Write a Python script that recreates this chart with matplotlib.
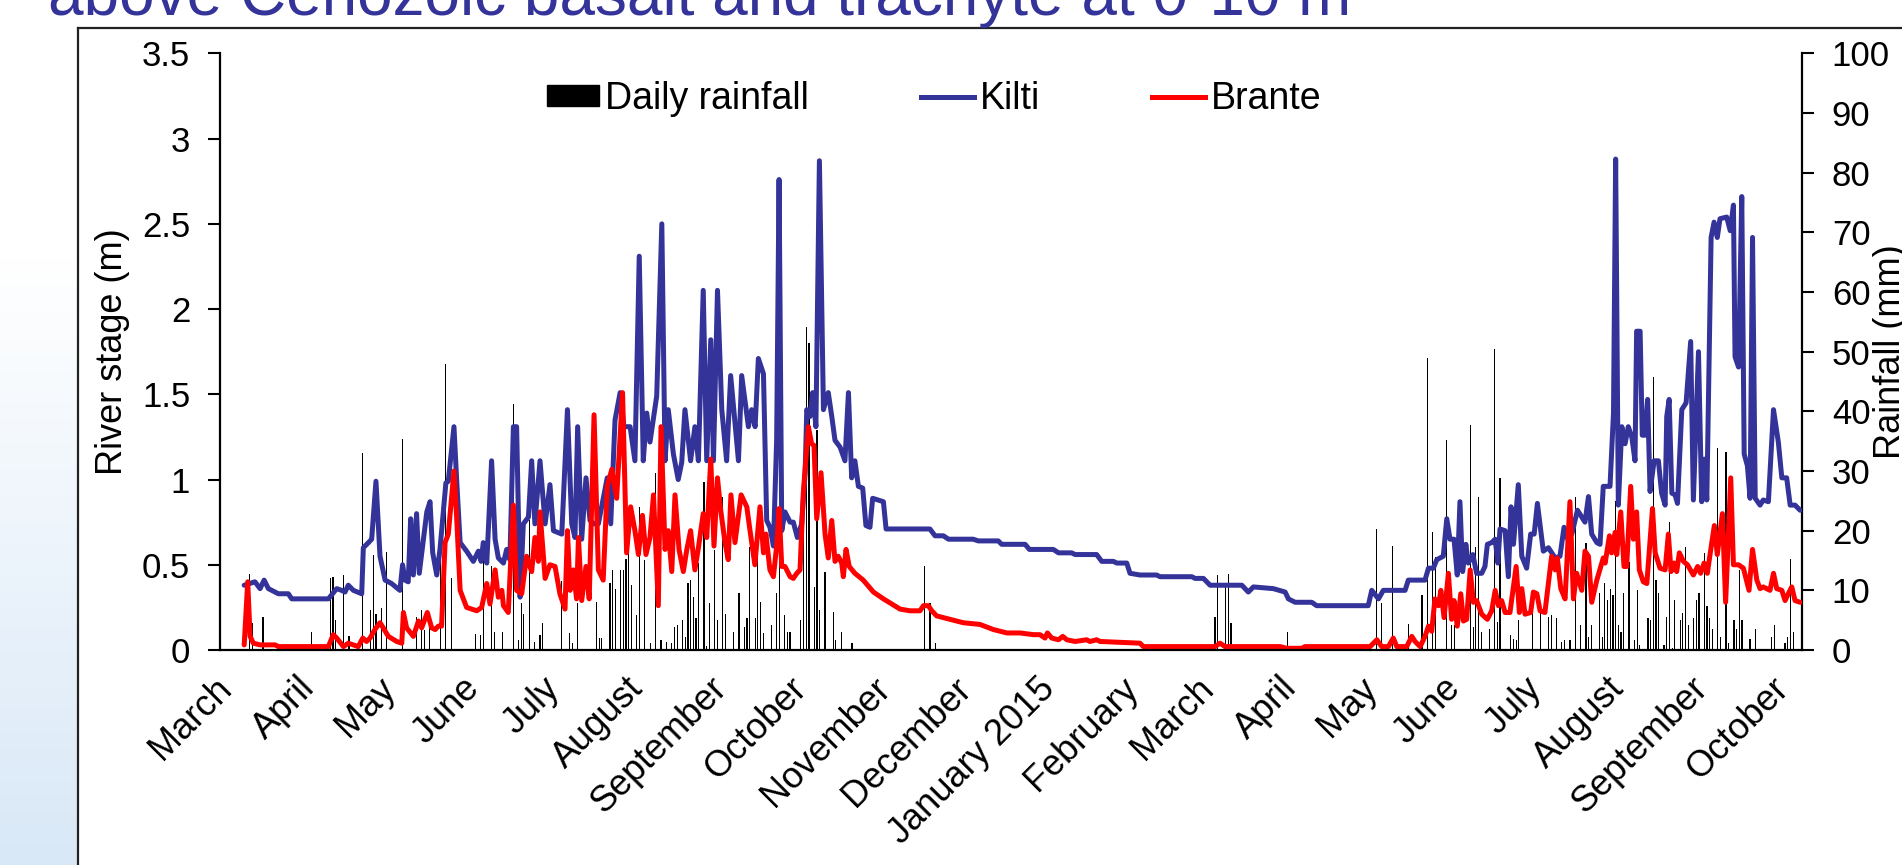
import numpy as np
import matplotlib
matplotlib.use("Agg")
import matplotlib.pyplot as plt
from matplotlib.lines import Line2D
from matplotlib.patches import Patch
from matplotlib.transforms import ScaledTranslation

# ---------------- data ----------------
START = np.datetime64("2014-03-01")
X_END_DAY = 588.3  # axis end, days after START

kilti_day = [9, 13.0, 14.9, 16.4, 18.0, 21.7, 25.4, 26.7, 40.3, 43.4, 45.2, 46.5, 47.7, 49.6, 52.7,
             53.3, 55.2, 56.4, 58.0, 59.5, 61.4, 63.8, 66.9, 67.9, 68.8, 70.0, 70.9, 71.9, 73.1, 74.1,
             76.9, 78.1, 79.1, 80.6, 81.8, 84.0, 84.9, 87.0, 88.0, 89.3, 91.7, 94.2, 96.1, 97.1, 97.9,
             99.2, 101.0, 102.3, 103.5, 105.4, 106.6, 107.8, 109.1, 110.3, 111.6, 112.8, 114.7, 115.9,
             117.1, 119.0, 120.9, 122.7, 124.0, 127.1, 129.2, 130.8, 132.0, 133.0, 134.5, 136.1, 137.6,
             139.1, 140.7, 144.0, 145.3, 146.9, 148.8, 150.2, 152.5, 154.3, 155.9, 157.4, 158.7, 159.9,
             162.4, 164.3, 165.5, 166.7, 168.6, 170.4, 171.7, 172.9, 175.0, 176.6, 177.9, 179.7, 181.0,
             182.5, 183.5, 185.0, 186.6, 188.4, 189.9, 192.8, 194.0, 196.5, 197.7, 199.0, 200.2, 202.1,
             203.3, 204.5, 205.8, 207.0, 207.9, 208.9, 210.1, 212.0, 213.2, 214.7, 216.3, 217.6, 218.2,
             219.4, 220.4, 221.6, 222.9, 224.4, 226.2, 227.5, 228.7, 230.6, 232.4, 233.7, 234.9, 236.1,
             237.4, 239.0, 240.2, 241.7, 242.7, 246.7, 247.7, 264.0, 265.9, 269.0, 270.9, 280.1, 282.0,
             289.4, 290.7, 299.4, 301.0, 309.9, 311.8, 316.7, 318.0, 326.0, 327.9, 332.2, 333.5, 337.2,
             338.4, 342.1, 348.3, 349.6, 361.4, 362.6, 365.7, 368.2, 380.0, 382.4, 384.3, 391.7, 396.1,
             397.3, 399.8, 406.0, 407.8, 427.0, 428.3, 430.8, 432.6, 440.7, 441.9, 448.1, 449.4, 451.2,
             452.5, 454.9, 456.2, 457.4, 458.9, 460.1, 461.1, 462.1, 463.3, 464.2, 465.9, 467.3, 469.2,
             470.4, 471.3, 472.9, 474.2, 475.2, 476.0, 477.9, 479.1, 480.1, 481.0, 482.8, 484.1, 485.9,
             487.4, 488.7, 489.9, 492.1, 494.0, 496.5, 498.3, 499.8, 501.2, 502.7, 504.8, 506.4, 507.6,
             508.9, 510.1, 512.0, 513.2, 514.4, 516.9, 518.2, 519.0, 520.0, 521.3, 522.5, 523.7, 525.0,
             526.2, 526.8, 528.1, 528.9, 529.9, 530.9, 531.8, 533.3, 534.9, 536.1, 537.4, 538.0, 538.9,
             539.9, 541.1, 542.0, 543.6, 545.2, 546.9, 547.9, 549.8, 551.0, 552.0, 552.9, 554.5, 555.6,
             556.8, 557.8, 560.3, 561.6, 562.8, 563.4, 564.7, 565.9, 566.8, 568.0, 569.0, 569.9, 570.9,
             572.7, 573.9, 575.8, 577.7, 579.5, 580.8, 582.6, 583.9, 585.7, 587.6]
kilti_stage = [0.38, 0.40, 0.36, 0.41, 0.36, 0.33, 0.33, 0.30, 0.30, 0.36, 0.35, 0.34, 0.38, 0.35, 0.33,
               0.60, 0.63, 0.65, 0.99, 0.55, 0.41, 0.39, 0.35, 0.50, 0.41, 0.40, 0.77, 0.44, 0.80, 0.45,
               0.81, 0.87, 0.57, 0.44, 0.59, 0.98, 0.99, 1.31, 1.00, 0.63, 0.58, 0.52, 0.58, 0.52, 0.63,
               0.51, 1.11, 0.65, 0.54, 0.51, 0.59, 0.53, 1.31, 1.31, 0.31, 0.74, 0.78, 1.11,
               0.74, 1.11, 0.74, 0.97, 0.70, 0.68, 1.41, 0.74, 0.66, 1.31, 0.65, 1.01, 0.76,
               0.74, 0.74, 1.01, 0.74, 1.35, 1.51, 1.31, 1.31, 1.11, 2.31, 1.11, 1.39, 1.22,
               1.49, 2.50, 1.11, 1.41, 1.15, 1.00, 1.10, 1.41, 1.11, 1.31, 1.11, 2.11, 1.11,
               1.82, 1.11, 2.11, 1.41, 1.11, 1.61, 1.11, 1.61, 1.31, 1.41, 1.31, 1.71, 1.62,
               0.76, 0.72, 0.61, 1.23, 2.76, 0.70, 0.81, 0.75, 0.75, 0.66, 0.74, 1.04, 1.41,
               1.37, 1.51, 1.31, 2.87, 1.41, 1.51, 1.37, 1.23, 1.19, 1.11, 1.51, 1.01, 1.11,
               0.96, 0.95, 0.73, 0.72, 0.89, 0.87, 0.71, 0.71, 0.67, 0.67, 0.65, 0.65, 0.64,
               0.64, 0.62, 0.62, 0.59, 0.59, 0.57, 0.57, 0.56, 0.56, 0.52, 0.52, 0.51, 0.51,
               0.45, 0.44, 0.44, 0.43, 0.43, 0.42, 0.42, 0.38, 0.38, 0.34, 0.37, 0.36, 0.34,
               0.30, 0.28, 0.28, 0.26, 0.26, 0.35, 0.30, 0.35, 0.35, 0.41, 0.41, 0.48, 0.48,
               0.53, 0.55, 0.77, 0.65, 0.65, 0.44, 0.87, 0.46, 0.62, 0.51, 0.56, 0.45, 0.45,
               0.49, 0.62, 0.63, 0.65, 0.51, 0.71, 0.70, 0.43, 0.84, 0.62, 0.97, 0.55, 0.48,
               0.68, 0.68, 0.86, 0.58, 0.60, 0.54, 0.55, 0.72, 0.65, 0.68, 0.82, 0.78, 0.75,
               0.90, 0.68, 0.63, 0.62, 0.96, 0.96, 1.39, 2.88, 0.85, 1.31, 1.21, 1.31, 1.25,
               1.11, 1.87, 1.87, 1.26, 1.26, 1.47, 0.93, 1.11, 1.11, 0.92, 0.85, 1.37, 1.47,
               0.92, 0.91, 0.86, 1.41, 1.45, 1.81, 0.88, 1.75, 0.87, 1.12, 0.88, 2.42, 2.51,
               2.42, 2.53, 2.54, 2.46, 2.61, 1.72, 1.66, 2.66, 1.15, 1.08, 0.89, 2.42, 0.89,
               0.85, 0.88, 0.87, 1.41, 1.22, 1.01, 1.01, 0.85, 0.85, 0.82]

brante_day = [9.0, 10.3, 11.2, 12.4, 14.9, 20.5, 21.7, 40.3, 42.1, 43.4, 45.9, 47.7, 51.4, 53.1, 54.5,
              55.8, 57.6, 59.5, 60.7, 62.6, 65.7, 67.6, 68.2, 69.4, 71.9, 73.8, 75.0, 77.1, 78.7, 80.0,
              81.2, 82.4, 83.7, 84.9, 87.0, 88.0, 89.3, 91.7, 93.6, 95.5, 97.3, 99.2, 100.4, 102.3, 103.5,
              104.8, 105.4, 107.2, 109.1, 110.3, 112.2, 114.0, 115.9, 117.1, 118.4, 119.0, 120.9, 122.7,
              124.6, 126.4, 128.3, 129.2, 130.2, 131.4, 132.6, 133.3, 134.5, 136.1, 137.3, 139.1, 140.7,
              142.5, 144.0, 145.7, 147.5, 149.7, 151.2, 152.7, 154.3, 155.6, 157.1, 158.4, 159.9, 161.2,
              163.0, 164.0, 165.5, 166.7, 168.0, 169.2, 170.7, 172.3, 173.6, 175.0, 176.6, 177.9, 179.7,
              181.0, 182.5, 183.7, 185.0, 186.2, 187.8, 189.0, 190.0, 191.5, 193.8, 195.9, 197.1, 198.9,
              200.8, 202.1, 203.0, 204.5, 205.8, 207.0, 207.9, 208.9, 210.1, 212.0, 213.2, 214.5, 215.7,
              216.9, 218.8, 220.0, 220.9, 221.9, 223.5, 225.0, 226.2, 227.5, 228.7, 229.9, 231.2, 231.8,
              232.8, 234.0, 236.1, 239.2, 243.0, 246.7, 252.9, 256.6, 260.3, 261.6, 263.4, 264.7, 266.5,
              271.5, 276.4, 282.6, 287.6, 292.6, 297.5, 302.5, 304.9, 306.8, 307.7, 309.3, 311.8, 313.4,
              314.9, 318.0, 322.3, 323.5, 326.0, 327.3, 342.1, 343.4, 370.0, 371.9, 373.7, 394.2, 396.7,
              402.3, 403.5, 427.7, 430.2, 432.0, 434.5, 436.3, 437.6, 441.3, 443.2, 444.4, 446.3, 448.1,
              449.4, 450.6, 451.8, 453.1, 454.0, 455.2, 456.8, 458.0, 458.9, 460.1, 461.4, 462.4, 463.6,
              464.9, 466.1, 467.3, 469.2, 471.3, 472.9, 474.2, 475.4, 476.6, 477.9, 479.7, 482.0, 483.2,
              484.1, 485.3, 487.4, 488.4, 489.7, 490.9, 492.7, 495.2, 496.5, 497.3, 498.6, 500.2, 502.0,
              503.3, 504.5, 506.4, 507.6, 508.9, 510.1, 512.0, 514.4, 515.1, 516.7, 517.5, 518.8, 519.4,
              520.9, 522.1, 523.1, 524.6, 525.6, 526.8, 527.8, 529.3, 530.6, 532.7, 533.7, 535.5, 537.4,
              538.6, 539.6, 540.7, 541.7, 542.7, 544.2, 545.7, 547.9, 549.5, 550.6, 551.9, 553.1, 554.1,
              555.7, 556.8, 558.7, 559.9, 561.8, 562.8, 564.7, 566.5, 568.6, 569.9, 571.5, 572.7, 573.9,
              576.4, 577.7, 578.9, 580.8, 582.0, 583.2, 584.5, 585.7, 587.6]
brante_stage = [0.03, 0.40, 0.08, 0.04, 0.03, 0.03, 0.02, 0.02, 0.09, 0.07, 0.02, 0.04, 0.02, 0.07, 0.05,
                0.07, 0.12, 0.16, 0.13, 0.08, 0.05, 0.04, 0.22, 0.13, 0.08, 0.17, 0.13, 0.22, 0.13, 0.12,
                0.14, 0.14, 0.63, 0.68, 1.05, 0.78, 0.35, 0.25, 0.24, 0.23, 0.25, 0.39, 0.27, 0.47, 0.31,
                0.35, 0.26, 0.22, 0.85, 0.35, 0.33, 0.55, 0.46, 0.66, 0.52, 0.81, 0.42, 0.50,
                0.49, 0.33, 0.24, 0.70, 0.35, 0.47, 0.30, 0.66, 0.29, 0.49, 0.30, 1.38, 0.47,
                0.41, 0.96, 1.06, 0.89, 1.51, 0.57, 0.84, 0.70, 0.56, 0.79, 0.56, 0.66, 0.91,
                0.26, 1.31, 0.59, 0.70, 0.46, 0.91, 0.59, 0.46, 0.59, 0.70, 0.47, 0.60, 0.80,
                0.66, 1.12, 0.61, 1.01, 0.82, 0.63, 0.53, 0.91, 0.63, 0.91, 0.84, 0.70, 0.50,
                0.84, 0.57, 0.68, 0.47, 0.43, 0.61, 0.83, 0.49, 0.49, 0.43, 0.42, 0.45, 0.47,
                0.92, 1.31, 1.21, 1.20, 0.77, 1.04, 0.68, 0.54, 0.76, 0.52, 0.55, 0.51, 0.43,
                0.59, 0.49, 0.45, 0.41, 0.34, 0.30, 0.24, 0.23, 0.23, 0.26, 0.26, 0.23, 0.20,
                0.18, 0.16, 0.15, 0.12, 0.10, 0.10, 0.09, 0.09, 0.07, 0.10, 0.07, 0.06, 0.08,
                0.06, 0.05, 0.06, 0.05, 0.06, 0.05, 0.04, 0.02, 0.02, 0.04, 0.02, 0.02, 0.01,
                0.01, 0.02, 0.02, 0.06, 0.02, 0.02, 0.07, 0.02, 0.02, 0.08, 0.05, 0.02, 0.08,
                0.14, 0.11, 0.30, 0.26, 0.35, 0.19, 0.45, 0.18, 0.29, 0.14, 0.33, 0.17, 0.18,
                0.47, 0.28, 0.29, 0.21, 0.18, 0.23, 0.35, 0.26, 0.29, 0.22, 0.22, 0.49, 0.22,
                0.36, 0.21, 0.22, 0.34, 0.33, 0.23, 0.22, 0.55, 0.47, 0.54, 0.36, 0.30, 0.87,
                0.30, 0.45, 0.35, 0.58, 0.55, 0.28, 0.41, 0.54, 0.51, 0.67, 0.57, 0.69, 0.56,
                0.81, 0.49, 0.49, 0.96, 0.65, 0.81, 0.47, 0.40, 0.39, 0.83, 0.57, 0.48, 0.47,
                0.68, 0.46, 0.51, 0.46, 0.57, 0.52, 0.50, 0.44, 0.49, 0.45, 0.51, 0.45, 0.56,
                0.73, 0.56, 0.80, 0.28, 1.01, 0.50, 0.50, 0.48, 0.35, 0.59, 0.41, 0.36, 0.37,
                0.35, 0.45, 0.36, 0.35, 0.29, 0.33, 0.37, 0.29, 0.28]

rain_day = [11, 12, 16, 34, 41, 42, 43, 46, 48, 53, 56, 57, 58, 60, 62, 68, 73, 75, 76, 78, 82, 84, 86,
            95, 97, 98, 101, 102, 105, 109, 111, 112, 113, 115, 117, 119, 120, 127, 130, 131, 133, 140,
            141, 142, 145, 146, 147, 149, 150, 151, 152, 153, 155, 156, 158, 160, 162, 164, 166, 168,
            169, 170, 172, 173, 174, 175, 176, 177, 178, 180, 181, 182, 184, 185, 187, 188, 191, 193,
            195, 196, 197, 199, 200, 201, 202, 205, 207, 208, 210, 211, 212, 216, 217, 218, 219, 221,
            222, 223, 225, 228, 229, 231, 235, 262, 264, 266, 370, 371, 374, 375, 376, 397, 430, 432,
            436, 442, 447, 449, 451, 452, 456, 458, 459, 465, 466, 467, 468, 469, 472, 474, 475, 476,
            480, 481, 482, 483, 488, 491, 494, 495, 497, 499, 500, 502, 504, 506, 508, 509, 510, 513,
            514, 515, 516, 517, 518, 519, 520, 521, 522, 524, 526, 527, 528, 531, 532, 533, 534, 535,
            537, 538, 539, 540, 541, 543, 544, 545, 546, 548, 549, 550, 552, 553, 554, 555, 557, 558,
            560, 561, 563, 564, 565, 566, 569, 571, 577, 578, 582, 583, 584, 585]
rain_mm = [12.7, 4.6, 5.6, 3.1, 12.1, 12.3, 5.1, 12.6, 2.3, 33.0, 6.7, 15.9, 6.1, 7.1, 16.4, 35.3, 5.6,
           6.7, 3.4, 5.3, 21.8, 48.0, 12.0, 2.6, 2.5, 15.0, 14.0, 3.1, 3.1, 41.2, 1.7, 7.8, 6.1, 21.8,
           1.4, 2.5, 4.5, 11.5, 2.8, 1.1, 7.8, 8.1, 2.0, 2.0, 11.2, 13.4, 10.3, 13.4, 13.4, 15.2, 16.8,
           10.9, 5.9, 24.0, 15.1, 1.1, 29.6, 1.7, 1.4, 1.1, 3.9, 4.2, 5.0, 2.2, 11.3, 11.7, 8.9, 5.3,
           14.5, 28.2, 0.6, 7.8, 16.8, 5.0, 25.7, 6.1, 3.1, 9.5, 3.9, 5.3, 17.3, 5.3, 19.6, 8.1, 2.8,
           4.2, 9.5, 22.0, 5.9, 3.1, 3.1, 5.0, 29.3, 54.2, 51.4, 10.6, 36.9, 6.7, 13.1, 6.4, 1.7, 3.1,
           1.1, 14.0, 7.8, 1.1, 5.6, 12.6, 11.3, 12.7, 4.6, 3.1, 20.2, 7.9, 17.4, 4.3, 9.3, 48.9, 19.7,
           15.6, 35.2, 4.2, 4.2, 37.7, 3.9, 17.3, 25.6, 3.1, 3.6, 50.4, 4.7, 28.9, 2.5, 1.9, 1.7, 5.0,
           8.1, 6.7, 5.6, 5.9, 5.3, 1.4, 1.7, 1.7, 25.6, 4.2, 17.9, 2.1, 4.2, 9.5, 2.1, 11.2, 8.4,
           10.3, 9.3, 25.0, 4.2, 3.1, 9.5, 14.8, 1.7, 10.1, 0.8, 5.3, 5.0, 45.8, 11.7, 9.5, 0.8, 5.6,
           21.5, 0.3, 8.4, 5.0, 6.2, 17.3, 4.2, 5.3, 8.4, 9.5, 16.2, 7.3, 5.3, 3.6, 33.8, 2.2, 33.2,
           1.1, 5.0, 3.6, 13.4, 5.0, 1.9, 3.6, 2.2, 4.2, 1.1, 2.2, 15.2, 3.1]

month_starts = ["2014-03-01", "2014-04-01", "2014-05-01", "2014-06-01", "2014-07-01", "2014-08-01",
                "2014-09-01", "2014-10-01", "2014-11-01", "2014-12-01", "2015-01-01", "2015-02-01",
                "2015-03-01", "2015-04-01", "2015-05-01", "2015-06-01", "2015-07-01", "2015-08-01",
                "2015-09-01", "2015-10-01"]
month_labels = ["March", "April", "May", "June", "July", "August", "September", "October",
                "November", "December", "January 2015", "February", "March", "April", "May", "June",
                "July", "August", "September", "October"]
stage_ticks = [0, 0.5, 1, 1.5, 2, 2.5, 3, 3.5]
stage_tick_labels = ["0", "0.5", "1", "1.5", "2", "2.5", "3", "3.5"]
rain_ticks = [0, 10, 20, 30, 40, 50, 60, 70, 80, 90, 100]

title_text = "above Cenozoic basalt and trachyte at 0-10 m"
series_names = ["Daily rainfall", "Kilti", "Brante"]

# ---------------- figure ----------------
plt.rcParams["font.family"] = ["Liberation Sans", "DejaVu Sans"]
W, H = 1902, 865
fig = plt.figure(figsize=(W / 100, H / 100), dpi=100)
fig.patch.set_facecolor("white")

# slide background: light blue gradient strip on the left
bg = fig.add_axes([0, 0, 78 / W, 1], zorder=-5)
t = np.linspace(0, 1, 300)[:, None]
ramp = np.clip((t - 0.3) / 0.7, 0, 1)
top = np.array([1.0, 1.0, 1.0])
bot = np.array([0.85, 0.91, 0.97])
img = top[None, None, :] * (1 - ramp[..., None]) + bot[None, None, :] * ramp[..., None]
img = np.repeat(img, 10, axis=1)
bg.imshow(img, aspect="auto", extent=[0, 1, 0, 1], origin="upper")
bg.set_axis_off()

# slide frame
fig.add_artist(Line2D([78 / W, 78 / W], [0, 1 - 28 / H], transform=fig.transFigure,
                      color="#222222", lw=1.6))
fig.add_artist(Line2D([78 / W, 1], [1 - 28 / H, 1 - 28 / H], transform=fig.transFigure,
                      color="#222222", lw=1.6))

# slide title (cut off at the top, as in the slide)
fig.text(48 / W, 1 - 15 / H, title_text, fontsize=46, color="#333399",
         ha="left", va="baseline")

x0, x1 = 220, 1802
y_top, y_bot = 53.4, 650
ax = fig.add_axes([x0 / W, 1 - y_bot / H, (x1 - x0) / W, (y_bot - y_top) / H])
ax2 = ax.twinx()

month_days = (np.array(month_starts, dtype="datetime64[D]") - START).astype(int)

ax2.bar(rain_day, rain_mm, width=0.45, color="black", linewidth=0)
ax.plot(kilti_day, kilti_stage, color="#333399", lw=3.6, solid_joinstyle="round",
        solid_capstyle="round")
ax.plot(brante_day, brante_stage, color="#FF0000", lw=3.6, solid_joinstyle="round",
        solid_capstyle="round")
ax.set_zorder(ax2.get_zorder() + 1)
ax.patch.set_visible(False)

ax.set_xlim(0, X_END_DAY)
ax.set_ylim(0, 3.5)
ax2.set_ylim(0, 100)

for a in (ax, ax2):
    a.spines["top"].set_visible(False)
ax.spines["right"].set_visible(False)
ax2.spines["left"].set_visible(False)
ax2.spines["bottom"].set_visible(False)
for sp in (ax.spines["left"], ax.spines["bottom"], ax2.spines["right"]):
    sp.set_linewidth(1.6)
    sp.set_color("black")

ax.set_yticks(stage_ticks)
ax.set_yticklabels(stage_tick_labels)
ax2.set_yticks(rain_ticks)
ax.tick_params(axis="y", direction="out", length=8.5, width=1.5, pad=13, labelsize=25)
ax2.tick_params(axis="y", direction="out", length=8.5, width=1.5, pad=13, labelsize=25)

ax.set_xticks(month_days)
ax.tick_params(axis="x", length=0, pad=15)
ax.set_xticklabels(month_labels, rotation=45, ha="right", va="top",
                   rotation_mode="anchor", fontsize=26)
shift = ScaledTranslation(-6 / 100, 0, fig.dpi_scale_trans)
for lbl in ax.get_xticklabels():
    lbl.set_transform(lbl.get_transform() + shift)

ax.set_ylabel("River stage (m)", fontsize=26)
ax.yaxis.set_label_coords(-0.057, 0.5)
ax2.set_ylabel("Rainfall (mm)", fontsize=26)
ax2.yaxis.set_label_coords(1.045, 0.5)

handles = [Patch(facecolor="black", edgecolor="black"),
           Line2D([], [], color="#333399", lw=3.6),
           Line2D([], [], color="#FF0000", lw=3.6)]
fig.legend(handles, series_names, loc="center", bbox_to_anchor=(934 / W, 1 - 99 / H),
           ncol=3, frameon=False, fontsize=27, handlelength=1.4, handleheight=0.5,
           handletextpad=0.15, columnspacing=3.0, borderaxespad=0, borderpad=0)

fig.savefig("out.png", dpi=100, facecolor="white")
